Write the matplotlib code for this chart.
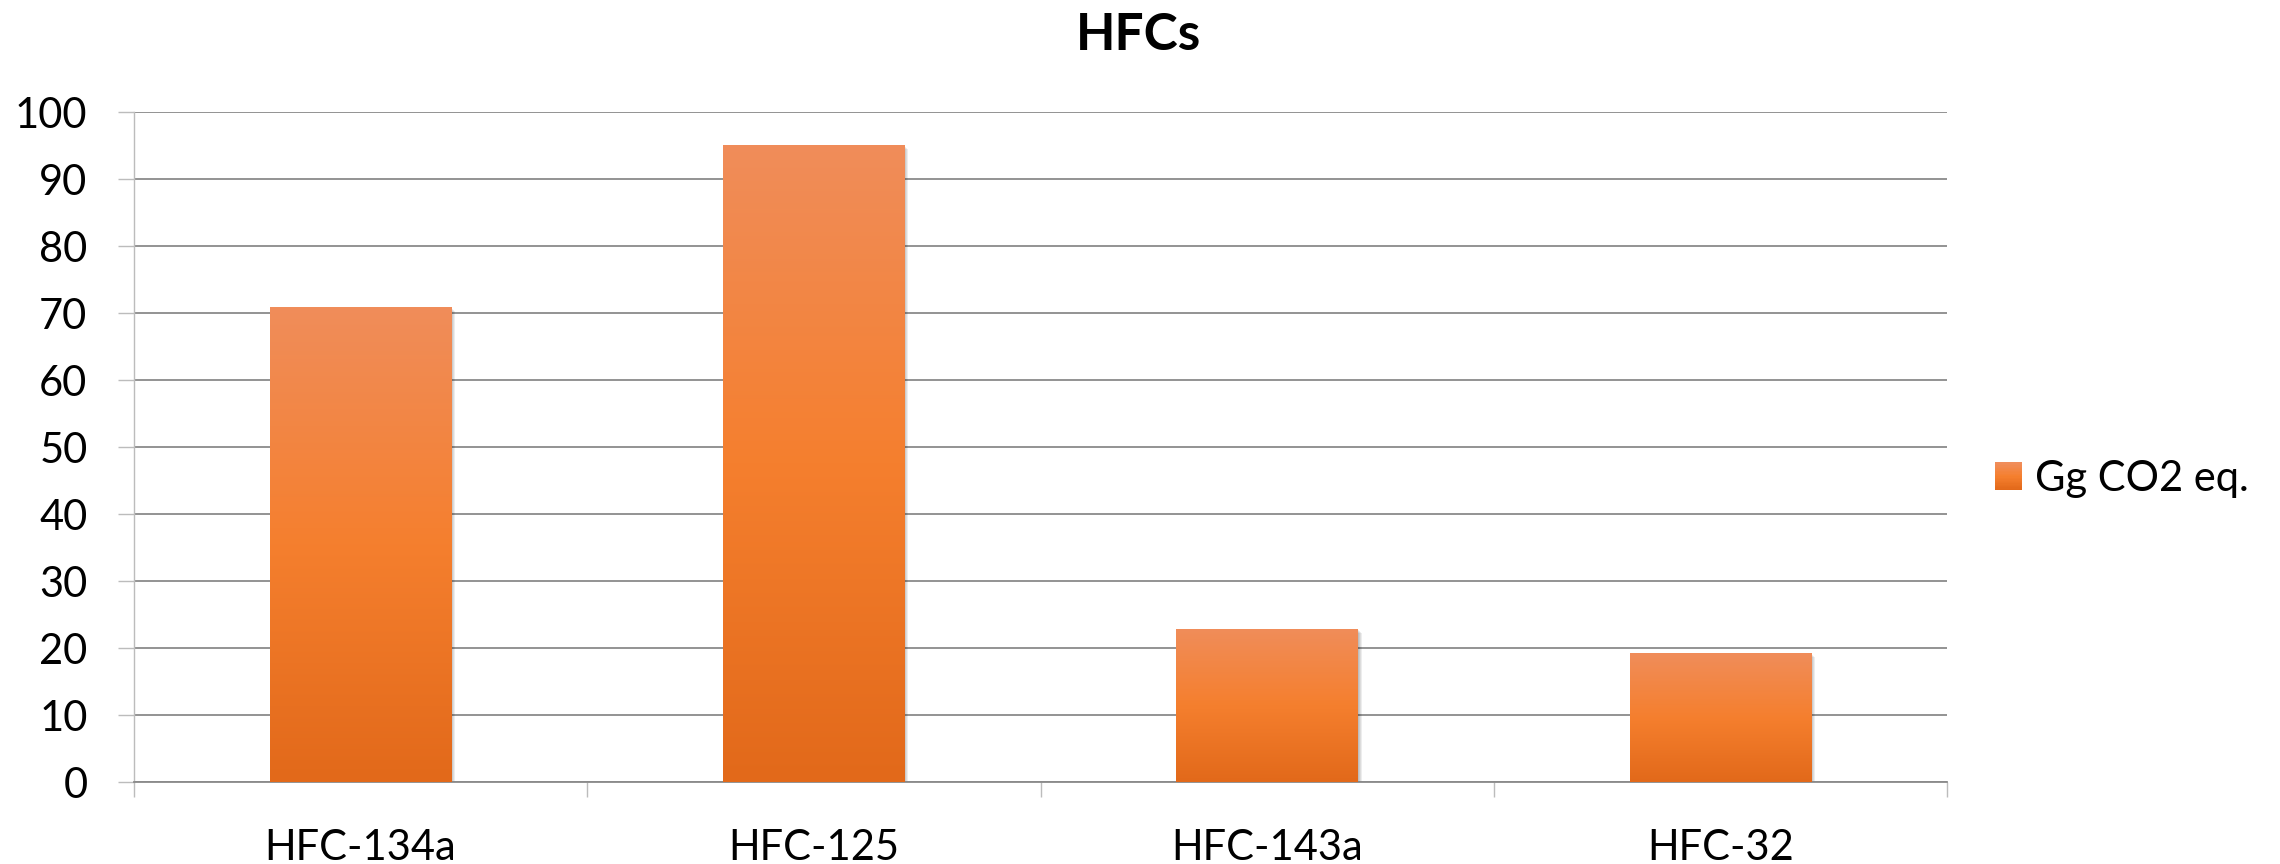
import numpy as np
import matplotlib
matplotlib.use("Agg")
import matplotlib.pyplot as plt
from matplotlib.colors import LinearSegmentedColormap
from matplotlib.legend_handler import HandlerBase
from matplotlib.patches import Rectangle, Patch
import matplotlib.patheffects as pe

categories = ["HFC-134a", "HFC-125", "HFC-143a", "HFC-32"]
values = [70.9, 95.2, 22.9, 19.2]
series_name = "Gg CO2 eq."
title = "HFCs"
yticks = [0, 10, 20, 30, 40, 50, 60, 70, 80, 90, 100]

plt.rcParams["font.family"] = ["Lato", "DejaVu Sans"]

# excel style orange gradient, dark at bottom -> light at top
grad = LinearSegmentedColormap.from_list(
    "xl_orange", ["#e2691a", "#f57f2e", "#f08d5a"])
grid_col = "#8a8a8a"
light_col = "#bcbcbc"

fig = plt.figure(figsize=(22.8, 8.64), dpi=100)
ax = fig.add_axes([134 / 2280, 1 - 782 / 864, (1947 - 134) / 2280, (782 - 112.5) / 864])

x = np.arange(len(categories))
bars = ax.bar(x, values, width=0.4, facecolor="none", edgecolor="none", zorder=2)

shadow = [pe.SimplePatchShadow(offset=(o, -o), shadow_rgbFace="black", alpha=0.07)
          for o in (0.7, 1.4, 2.1, 2.8)]
g = np.linspace(0, 1, 256).reshape(-1, 1)
for b in bars:
    x0, y0 = b.get_x(), b.get_y()
    w, h = b.get_width(), b.get_height()
    b.set_path_effects(shadow)
    im = ax.imshow(g, cmap=grad, aspect="auto", origin="lower",
                   extent=(x0, x0 + w, y0, y0 + h), zorder=3, interpolation="bilinear")
    im.set_clip_path(b)

ax.set_xlim(-0.5, len(categories) - 0.5)
ax.set_ylim(0, 100)
ax.set_yticks(yticks)
ax.set_xticks(x)
ax.set_xticklabels(categories)
ax.set_xticks(np.arange(len(categories) + 1) - 0.5, minor=True)

ax.yaxis.grid(True, color=grid_col, linewidth=1.3, zorder=1)
ax.set_axisbelow(True)

for s in ("top", "right"):
    ax.spines[s].set_visible(False)
ax.spines["left"].set_color(light_col)
ax.spines["left"].set_linewidth(1.0)
ax.spines["bottom"].set_color(grid_col)
ax.spines["bottom"].set_linewidth(1.3)

ax.tick_params(axis="y", direction="out", length=11.5, width=1.0, color=light_col,
               labelsize=30, pad=22)
ax.tick_params(axis="x", which="major", length=0, labelsize=30, pad=34)
ax.tick_params(axis="x", which="minor", direction="out", length=11, width=1.0, color=light_col)

fig.text(1139 / 2280, 1 - 50 / 864, title, ha="center", va="baseline",
         fontsize=37, fontweight="bold")


class GradHandler(HandlerBase):
    def create_artists(self, legend, orig_handle, xdescent, ydescent, width, height, fontsize, trans):
        n = 20
        arts = []
        for i in range(n):
            r = Rectangle((-xdescent, -ydescent + height * i / n), width, height / n + 0.3,
                          facecolor=grad(i / (n - 1)), edgecolor="none", transform=trans)
            arts.append(r)
        return arts


h = Patch(label=series_name)
fig.legend(handles=[h], handler_map={Patch: GradHandler()}, loc="center left",
           bbox_to_anchor=(1995 / 2280, 1 - 479 / 864), frameon=False, fontsize=30,
           handlelength=0.65, handleheight=0.65, handletextpad=0.3,
           borderpad=0, borderaxespad=0)

plt.savefig("out.png", dpi=100)
